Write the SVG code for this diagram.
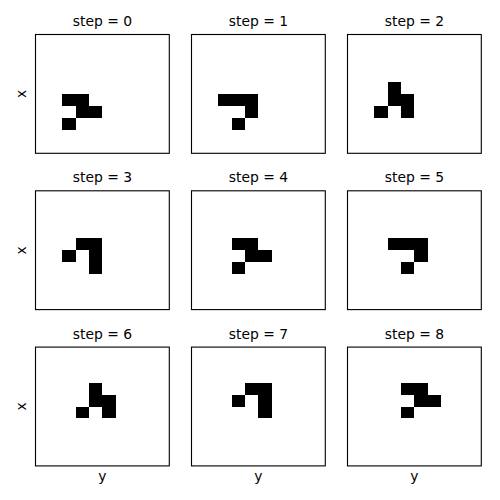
<svg xmlns="http://www.w3.org/2000/svg" width="500" height="500" viewBox="0 0 500 500">
<style>
.bg{fill:#ffffff}
.frame{fill:none;stroke:#000000;stroke-width:1.11}
.cell{fill:#000000}
.t{font-family:"DejaVu Sans",sans-serif;font-size:13.89px;fill:#000000;text-anchor:middle}
</style>
<defs>
<rect id="c" class="cell" width="1" height="1"/>
</defs>
<rect class="bg" x="0" y="0" width="500" height="500"/>
<g id="panel0">
<text class="t" x="102.4" y="26">step = 0</text>
<g transform="translate(35.5,34.5) scale(13.38,11.88)" shape-rendering="crispEdges">
<use href="#c" x="2" y="5"/><use href="#c" x="3" y="5"/><use href="#c" x="3" y="6"/><use href="#c" x="4" y="6"/><use href="#c" x="2" y="7"/>
</g>
<rect class="frame" x="35.5" y="34.5" width="133.8" height="118.8"/>
<text class="t" transform="translate(25.5,94) rotate(-90)">x</text>
</g>
<g id="panel1">
<text class="t" x="258.4" y="26">step = 1</text>
<g transform="translate(191.5,34.5) scale(13.38,11.88)" shape-rendering="crispEdges">
<use href="#c" x="2" y="5"/><use href="#c" x="3" y="5"/><use href="#c" x="4" y="5"/><use href="#c" x="4" y="6"/><use href="#c" x="3" y="7"/>
</g>
<rect class="frame" x="191.5" y="34.5" width="133.8" height="118.8"/>
</g>
<g id="panel2">
<text class="t" x="414.4" y="26">step = 2</text>
<g transform="translate(347.5,34.5) scale(13.38,11.88)" shape-rendering="crispEdges">
<use href="#c" x="3" y="4"/><use href="#c" x="3" y="5"/><use href="#c" x="4" y="5"/><use href="#c" x="2" y="6"/><use href="#c" x="4" y="6"/>
</g>
<rect class="frame" x="347.5" y="34.5" width="133.8" height="118.8"/>
</g>
<g id="panel3">
<text class="t" x="102.4" y="182.3">step = 3</text>
<g transform="translate(35.5,190.8) scale(13.38,11.88)" shape-rendering="crispEdges">
<use href="#c" x="3" y="4"/><use href="#c" x="4" y="4"/><use href="#c" x="2" y="5"/><use href="#c" x="4" y="5"/><use href="#c" x="4" y="6"/>
</g>
<rect class="frame" x="35.5" y="190.8" width="133.8" height="118.8"/>
<text class="t" transform="translate(25.5,250.3) rotate(-90)">x</text>
</g>
<g id="panel4">
<text class="t" x="258.4" y="182.3">step = 4</text>
<g transform="translate(191.5,190.8) scale(13.38,11.88)" shape-rendering="crispEdges">
<use href="#c" x="3" y="4"/><use href="#c" x="4" y="4"/><use href="#c" x="4" y="5"/><use href="#c" x="5" y="5"/><use href="#c" x="3" y="6"/>
</g>
<rect class="frame" x="191.5" y="190.8" width="133.8" height="118.8"/>
</g>
<g id="panel5">
<text class="t" x="414.4" y="182.3">step = 5</text>
<g transform="translate(347.5,190.8) scale(13.38,11.88)" shape-rendering="crispEdges">
<use href="#c" x="3" y="4"/><use href="#c" x="4" y="4"/><use href="#c" x="5" y="4"/><use href="#c" x="5" y="5"/><use href="#c" x="4" y="6"/>
</g>
<rect class="frame" x="347.5" y="190.8" width="133.8" height="118.8"/>
</g>
<g id="panel6">
<text class="t" x="102.4" y="338.6">step = 6</text>
<g transform="translate(35.5,347.1) scale(13.38,11.88)" shape-rendering="crispEdges">
<use href="#c" x="4" y="3"/><use href="#c" x="4" y="4"/><use href="#c" x="5" y="4"/><use href="#c" x="3" y="5"/><use href="#c" x="5" y="5"/>
</g>
<rect class="frame" x="35.5" y="347.1" width="133.8" height="118.8"/>
<text class="t" transform="translate(25.5,406.5) rotate(-90)">x</text>
<text class="t" x="102.4" y="480.8">y</text>
</g>
<g id="panel7">
<text class="t" x="258.4" y="338.6">step = 7</text>
<g transform="translate(191.5,347.1) scale(13.38,11.88)" shape-rendering="crispEdges">
<use href="#c" x="4" y="3"/><use href="#c" x="5" y="3"/><use href="#c" x="3" y="4"/><use href="#c" x="5" y="4"/><use href="#c" x="5" y="5"/>
</g>
<rect class="frame" x="191.5" y="347.1" width="133.8" height="118.8"/>
<text class="t" x="258.4" y="480.8">y</text>
</g>
<g id="panel8">
<text class="t" x="414.4" y="338.6">step = 8</text>
<g transform="translate(347.5,347.1) scale(13.38,11.88)" shape-rendering="crispEdges">
<use href="#c" x="4" y="3"/><use href="#c" x="5" y="3"/><use href="#c" x="5" y="4"/><use href="#c" x="6" y="4"/><use href="#c" x="4" y="5"/>
</g>
<rect class="frame" x="347.5" y="347.1" width="133.8" height="118.8"/>
<text class="t" x="414.4" y="480.8">y</text>
</g>
<g id="connectors"></g>
</svg>
